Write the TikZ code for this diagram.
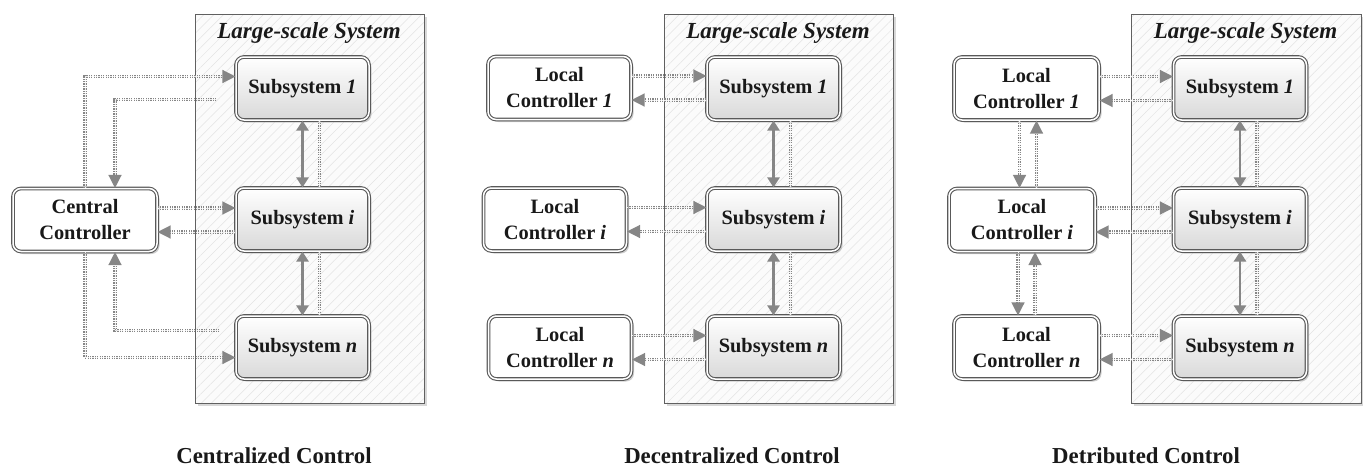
\documentclass[tikz,border=0pt]{standalone}
\usepackage{fontspec}
\setmainfont{Liberation Serif}
\usetikzlibrary{arrows.meta,shadows,patterns.meta,calc}
\begin{document}
\begin{tikzpicture}[x=1pt,y=-1pt,
  box/.style={draw=gray!70!black, double=white, double distance=1.5pt, line width=1.1pt,
    rounded corners=8pt, minimum width=133pt, minimum height=63pt, inner sep=0pt,
    align=center, text=black!90, font=\fontsize{20.4}{26}\selectfont\bfseries,
    drop shadow={shadow xshift=2.5pt, shadow yshift=-2.5pt, fill=gray!70, opacity=0.55}},
  sub/.style={box, top color=white, bottom color=gray!30},
  ctrl/.style={box, fill=white, minimum width=143pt},
  sys/.style={draw=gray!75!black, line width=0.9pt, inner sep=0pt,
    minimum width=229pt, minimum height=389pt,
    drop shadow={shadow xshift=2.5pt, shadow yshift=-2.5pt, fill=gray!60, opacity=0.5},
    preaction={fill=gray!3},
    preaction={pattern={Lines[angle=45,distance=7pt,line width=0.5pt]}, pattern color=gray!22}},
  systitle/.style={anchor=base, font=\fontsize{23}{26}\selectfont\bfseries\itshape, text=black!90},
  captext/.style={anchor=base, font=\fontsize{22.8}{26}\selectfont\bfseries, text=black!90},
  dotline/.style={draw=gray!95, double=gray!15, double distance=1pt, line width=1.3pt,
    dash pattern=on 1.3pt off 1.1pt},
  dotarr/.style={dotline, -{Triangle[length=13pt,width=13pt]}},
  solarr/.style={draw=gray!95, line width=2.4pt,
    {Triangle[length=10pt,width=12pt]}-{Triangle[length=10pt,width=12pt]}}
]
\useasboundingbox (0,0) rectangle (1363,466);

% ---------------- Panel 1: centralized ----------------
\node[sys] (B1) at (309.5,208.5) {};
\node[systitle] (T1) at (309,38) {Large-scale System};
\node[sub] (S1a) at (302.5,88.5) {Subsystem \textit{1}};
\node[sub] (S1b) at (302.5,219.5) {Subsystem \textit{i}};
\node[sub] (S1c) at (302.5,347.5) {Subsystem \textit{n}};
\node[ctrl, minimum width=144pt] (CC) at (85,220) {Central\\Controller};

\coordinate (f1) at ([xshift=-19pt,yshift=-11pt]S1a.west);
\coordinate (f2) at ([xshift=-16pt,yshift=17pt]S1c.west);
\draw[dotarr] (CC.north) |- ([yshift=12pt]S1a.west);
\draw[dotarr] (f1) -| ([xshift=30pt]CC.north);
\draw[dotarr] ([yshift=12pt]CC.east) -- ([yshift=12pt]CC.east -| S1b.west);
\draw[dotarr] ([yshift=-12pt]CC.east -| S1b.west) -- ([yshift=-12pt]CC.east);
\draw[dotarr] (f2) -| ([xshift=30pt]CC.south);
\draw[dotarr] (CC.south) |- ([yshift=-10pt]S1c.west);
\draw[solarr] (S1a.south) -- (S1b.north);
\draw[solarr] (S1b.south) -- (S1c.north);
\draw[dotline] ([xshift=17pt]S1a.south) -- ([xshift=17pt]S1b.north);
\draw[dotline] ([xshift=17pt]S1b.south) -- ([xshift=17pt]S1c.north);
\node[captext] (C1) at (274,463) {Centralized Control};

% ---------------- Panel 2: decentralized ----------------
\node[sys] (B2) at (778.5,208.5) {};
\node[systitle] (T2) at (778,38) {Large-scale System};
\node[sub] (S2a) at (773.5,88.5) {Subsystem \textit{1}};
\node[sub] (S2b) at (773.5,219.5) {Subsystem \textit{i}};
\node[sub] (S2c) at (773.5,347.5) {Subsystem \textit{n}};
\node[ctrl] (L2a) at (559.5,88) {Local\\Controller \textit{1}};
\node[ctrl] (L2b) at (555,219.5) {Local\\Controller \textit{i}};
\node[ctrl] (L2c) at (560,347.5) {Local\\Controller \textit{n}};

\foreach \l/\s in {L2a/S2a,L2b/S2b,L2c/S2c}{
  \draw[dotarr] ([yshift=12pt]\l.east) -- ([yshift=12pt]\l.east -| \s.west);
  \draw[dotarr] ([yshift=-12pt]\l.east -| \s.west) -- ([yshift=-12pt]\l.east);
}
\draw[solarr] (S2a.south) -- (S2b.north);
\draw[solarr] (S2b.south) -- (S2c.north);
\draw[dotline] ([xshift=17pt]S2a.south) -- ([xshift=17pt]S2b.north);
\draw[dotline] ([xshift=17pt]S2b.south) -- ([xshift=17pt]S2c.north);
\node[captext] (C2) at (732,463) {Decentralized Control};

% ---------------- Panel 3: distributed ----------------
\node[sys, minimum width=230pt] (B3) at (1246,208.5) {};
\node[systitle] (T3) at (1245.5,38) {Large-scale System};
\node[sub] (S3a) at (1240,88.5) {Subsystem \textit{1}};
\node[sub] (S3b) at (1240,219.5) {Subsystem \textit{i}};
\node[sub] (S3c) at (1240,347.5) {Subsystem \textit{n}};
\node[ctrl, minimum width=145pt] (L3a) at (1026.5,88.5) {Local\\Controller \textit{1}};
\node[ctrl, minimum width=146pt] (L3b) at (1022,220) {Local\\Controller \textit{i}};
\node[ctrl, minimum width=145pt] (L3c) at (1026.5,347.5) {Local\\Controller \textit{n}};

\foreach \l/\s in {L3a/S3a,L3b/S3b,L3c/S3c}{
  \draw[dotarr] ([yshift=12pt]\l.east) -- ([yshift=12pt]\l.east -| \s.west);
  \draw[dotarr] ([yshift=-12pt]\l.east -| \s.west) -- ([yshift=-12pt]\l.east);
}
\draw[dotarr] ([xshift=-7pt]L3a.south) -- ([xshift=-7pt]L3a.south |- L3b.north);
\draw[dotarr] ([xshift=10pt]L3a.south |- L3b.north) -- ([xshift=10pt]L3a.south);
\draw[dotarr] ([xshift=-4pt]L3b.south) -- ([xshift=-4pt]L3b.south |- L3c.north);
\draw[dotarr] ([xshift=13pt]L3b.south |- L3c.north) -- ([xshift=13pt]L3b.south);
\draw[solarr] (S3a.south) -- (S3b.north);
\draw[solarr] (S3b.south) -- (S3c.north);
\draw[dotline] ([xshift=17pt]S3a.south) -- ([xshift=17pt]S3b.north);
\draw[dotline] ([xshift=17pt]S3b.south) -- ([xshift=17pt]S3c.north);
\node[captext] (C3) at (1146,463) {Detributed Control};
\end{tikzpicture}
\end{document}
